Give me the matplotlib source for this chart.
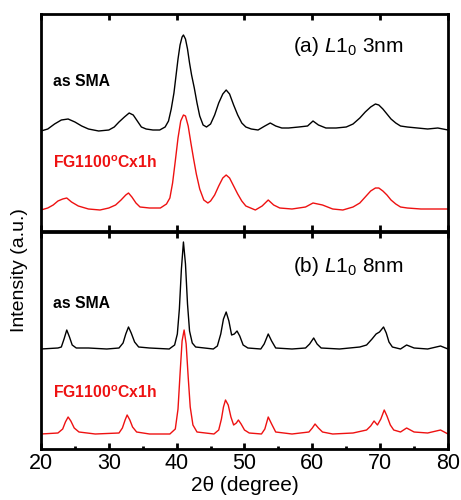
import matplotlib
matplotlib.use("Agg")
import matplotlib.pyplot as plt
from matplotlib.ticker import MultipleLocator

plt.rcParams['font.family'] = ['Liberation Sans', 'DejaVu Sans']
plt.rcParams['mathtext.fontset'] = 'custom'
plt.rcParams['mathtext.rm'] = 'Liberation Sans'
plt.rcParams['mathtext.it'] = 'Liberation Sans:italic'
plt.rcParams['mathtext.bf'] = 'Liberation Sans:bold'

# (a) L1_0 3nm (arbitrary units, offset stacked)
a_sma_x = [20.0, 21.0, 22.0, 23.0, 24.0, 25.0, 26.0, 27.0, 28.5, 30.0, 30.8, 31.5, 32.3,
           33.0, 33.6, 34.2, 34.8, 35.5, 36.5, 37.5, 38.3, 38.8, 39.2, 39.6, 39.9, 40.2,
           40.5, 40.8, 41.0, 41.3, 41.6, 41.9, 42.2, 42.6, 43.0, 43.4, 43.9, 44.4, 45.0,
           45.6, 46.2, 46.8, 47.3, 47.8, 48.4, 49.0, 49.6, 50.2, 51.0, 52.0, 53.0, 53.8,
           54.6, 55.5, 56.5, 58.0, 59.3, 60.1, 60.9, 62.0, 63.5, 65.0, 66.0, 67.0, 67.8,
           68.6, 69.3, 69.8, 70.4, 71.0, 71.6, 72.3, 73.0, 74.0, 75.5, 77.0, 78.5, 80.0]
a_sma_y = [100, 102, 107, 111, 112, 109, 105, 102, 100, 101, 104, 109, 114,
           118, 116, 110, 104, 102, 101, 101, 104, 110, 122, 138, 155, 172,
           186, 194, 196, 192, 182, 168, 156, 143, 128, 115, 106, 104, 107,
           116, 128, 137, 141, 137, 126, 116, 108, 104, 102, 101, 105, 108,
           105, 103, 103, 104, 105, 110, 106, 103, 103, 104, 107, 113, 119,
           124, 127, 126, 122, 117, 112, 108, 105, 104, 103, 102, 103, 101]

a_fg_x = [20.0, 21.0, 21.8, 22.5, 23.2, 23.8, 24.5, 25.5, 27.0, 28.7, 30.0, 31.0, 31.8,
          32.5, 32.9, 33.4, 34.0, 34.6, 36.0, 37.6, 38.5, 39.0, 39.4, 39.8, 40.2, 40.6,
          41.0, 41.3, 41.7, 42.1, 42.5, 42.9, 43.4, 44.0, 44.6, 45.0, 45.6, 46.2, 46.8,
          47.3, 47.8, 48.4, 49.0, 49.6, 50.2, 51.6, 52.6, 53.5, 54.3, 55.2, 57.0, 59.0,
          60.1, 61.5, 63.0, 64.5, 66.0, 67.0, 67.8, 68.6, 69.3, 69.8, 70.4, 71.0, 71.6,
          72.3, 73.0, 74.0, 76.0, 78.0, 80.0]
a_fg_y = [21, 23, 26, 30, 32, 33, 29, 25, 22, 21, 23, 26, 31,
          36, 38, 34, 28, 24, 23, 23, 27, 33, 48, 70, 93, 110,
          116, 115, 105, 88, 72, 57, 42, 31, 28, 30, 36, 45, 53,
          56, 53, 45, 37, 30, 25, 21, 25, 31, 26, 23, 22, 24,
          28, 26, 22, 21, 24, 28, 34, 40, 43, 43, 40, 36, 31,
          27, 24, 23, 22, 22, 22]

# (b) L1_0 8nm
b_sma_x = [20.0, 22.5, 23.0, 23.4, 23.8, 24.2, 24.6, 25.2, 27.0, 29.7, 31.5, 32.1, 32.5,
           32.9, 33.3, 33.8, 34.4, 36.0, 38.9, 39.7, 40.1, 40.4, 40.7, 41.0, 41.3, 41.6,
           41.9, 42.3, 42.8, 45.4, 46.0, 46.5, 46.9, 47.3, 47.7, 48.1, 48.5, 48.9, 49.3,
           49.8, 50.5, 52.4, 52.9, 53.5, 54.0, 54.6, 57.0, 59.0, 59.6, 60.2, 60.7, 61.3,
           64.0, 67.0, 68.0, 68.8, 69.4, 69.9, 70.5, 70.9, 71.3, 71.8, 73.0, 73.9, 75.0,
           77.0, 78.9, 80.0]
b_sma_y = [100, 101, 102, 110, 119, 112, 104, 101, 101, 100, 101, 106, 115,
           122, 116, 107, 102, 101, 100, 104, 115, 140, 180, 207, 185, 145,
           118, 106, 102, 100, 103, 115, 130, 137, 128, 114, 115, 118, 113,
           104, 101, 100, 105, 115, 108, 101, 100, 101, 105, 111, 105, 101,
           100, 102, 104, 110, 115, 117, 122, 116, 107, 102, 100, 104, 101,
           100, 103, 100]

b_fg_x = [20.0, 22.5, 23.2, 23.6, 24.0, 24.4, 24.9, 25.6, 28.0, 31.5, 32.0, 32.4, 32.7,
          33.1, 33.5, 34.1, 36.0, 39.0, 39.8, 40.2, 40.5, 40.8, 41.1, 41.4, 41.7, 42.0,
          42.4, 43.0, 45.5, 46.2, 46.6, 46.9, 47.2, 47.6, 48.0, 48.4, 48.8, 49.1, 49.5,
          50.0, 50.7, 52.5, 53.0, 53.5, 54.0, 54.6, 57.0, 59.5, 60.0, 60.4, 60.9, 61.5,
          63.0, 66.0, 68.0, 68.6, 69.1, 69.6, 70.1, 70.6, 71.0, 71.5, 72.0, 73.0, 73.9,
          75.0, 77.0, 78.9, 80.0]
b_fg_y = [15, 16, 20, 27, 32, 28, 21, 17, 15, 16, 21, 29, 34,
          29, 22, 17, 15, 15, 20, 40, 75, 108, 119, 105, 72, 42,
          24, 17, 15, 19, 30, 42, 49, 44, 32, 24, 26, 29, 25,
          19, 16, 15, 20, 32, 25, 17, 15, 17, 21, 25, 21, 17,
          15, 16, 19, 23, 28, 24, 30, 39, 33, 24, 19, 17, 21,
          17, 16, 19, 15]

labels = ['as SMA', r'FG1100$^{\mathbf{o}}$Cx1h']
titles = [r'(a) $\mathit{L}$1$_0$ 3nm', r'(b) $\mathit{L}$1$_0$ 8nm']
xticks = [20, 30, 40, 50, 60, 70, 80]

fig = plt.figure(figsize=(4.61, 5.0), dpi=100)
ax_a = fig.add_axes([0.0889, 0.538, 0.8829, 0.434])
ax_b = fig.add_axes([0.0889, 0.102, 0.8829, 0.434])

# label baselines (axes fraction): as SMA, FG, title
panels = [(ax_a, a_sma_x, a_sma_y, a_fg_x, a_fg_y, titles[0], (0.668, 0.289, 0.826)),
          (ax_b, b_sma_x, b_sma_y, b_fg_x, b_fg_y, titles[1], (0.648, 0.234, 0.817))]

for ax, sx, sy, fx, fy, title, ys in panels:
    ax.plot(sx, sy, color='black', lw=1.0)
    ax.plot(fx, fy, color='#ee1111', lw=1.0)
    ax.set_xlim(20, 80)
    ax.set_ylim(0, 217)
    ax.set_yticks([])
    ax.set_xticks(xticks)
    for s in ax.spines.values():
        s.set_linewidth(2.0)
    ax.tick_params(axis='x', direction='in', top=True, bottom=True,
                   length=4, width=2.0, labelsize=15.5, pad=3)
    ax.text(0.03, ys[0], labels[0], transform=ax.transAxes, fontsize=11.3,
            fontweight='bold', color='black', va='baseline')
    ax.text(0.03, ys[1], labels[1], transform=ax.transAxes, fontsize=11.3,
            fontweight='bold', color='#ee1111', va='baseline')
    ax.text(0.62, ys[2], title, transform=ax.transAxes, fontsize=15, va='baseline')

ax_a.tick_params(axis='x', labelbottom=False)
ax_b.xaxis.set_minor_locator(MultipleLocator(5))
ax_b.tick_params(axis='x', which='minor', direction='in', top=False, bottom=True,
                 length=2.5, width=2.0)
ax_b.set_xlabel('2\u03b8 (degree)', fontsize=15, labelpad=1)
fig.text(0.043, 0.46, 'Intensity (a.u.)', rotation=90, fontsize=14,
         va='center', ha='center')

fig.savefig('out.png', dpi=100)
